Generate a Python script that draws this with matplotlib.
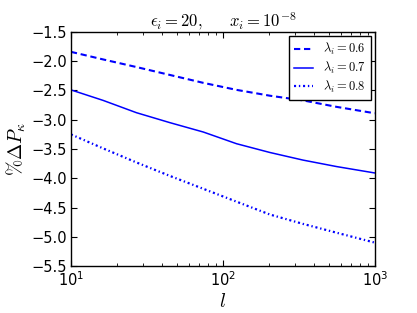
import matplotlib
matplotlib.use("Agg")
import matplotlib.pyplot as plt

plt.rcParams['mathtext.fontset'] = 'cm'
plt.rcParams['lines.scale_dashes'] = False

l_vals = [10, 16.3, 27, 44.8, 74.3, 123, 204, 337, 559, 1000]
dp_06 = [-1.84, -1.97, -2.10, -2.235, -2.37, -2.49, -2.59, -2.67, -2.78, -2.89]
dp_07 = [-2.49, -2.67, -2.88, -3.05, -3.21, -3.41, -3.56, -3.69, -3.80, -3.91]
dp_08 = [-3.25, -3.49, -3.73, -3.96, -4.18, -4.40, -4.62, -4.78, -4.93, -5.10]
labels = [r'$\lambda_i=0.6$', r'$\lambda_i=0.7$', r'$\lambda_i=0.8$']

fig = plt.figure(figsize=(4.17, 3.13), dpi=100)
ax = fig.add_axes([0.170, 0.150, 0.729, 0.748])

ax.plot(l_vals, dp_06, color='#0000ff', lw=1.5, dashes=[4.5, 2.7], label=labels[0])
ax.plot(l_vals, dp_07, color='#0000ff', lw=1.1, linestyle='-', label=labels[1])
ax.plot(l_vals, dp_08, color='#0000ff', lw=1.6, dashes=[1.5, 2.0, 1.0, 2.0], label=labels[2])

ax.set_xscale('log')
ax.set_xlim(10, 1000)
ax.set_ylim(-5.5, -1.5)
ax.set_yticks([-5.5, -5.0, -4.5, -4.0, -3.5, -3.0, -2.5, -2.0, -1.5])
ax.tick_params(which='both', direction='in', top=True, right=True, labelsize=10.5, pad=3)
ax.tick_params(which='major', length=4)
ax.tick_params(which='minor', length=2)
for s in ax.spines.values():
    s.set_linewidth(1.0)

ax.set_xlabel(r'$l$', fontsize=14, labelpad=2)
ax.set_ylabel(r'$\%\Delta P_\kappa$', fontsize=14, labelpad=2)
ax.set_title(r'$\epsilon_i=20,\quad\ \ x_i=10^{-8}$', fontsize=12, pad=3)

leg = ax.legend(loc='upper right', fontsize=9, fancybox=False, framealpha=1,
                edgecolor='black', handlelength=1.5, labelspacing=0.2,
                borderaxespad=0.35, borderpad=0.4)
leg.get_frame().set_linewidth(1.0)

fig.savefig('out.png', dpi=100, facecolor='white')
